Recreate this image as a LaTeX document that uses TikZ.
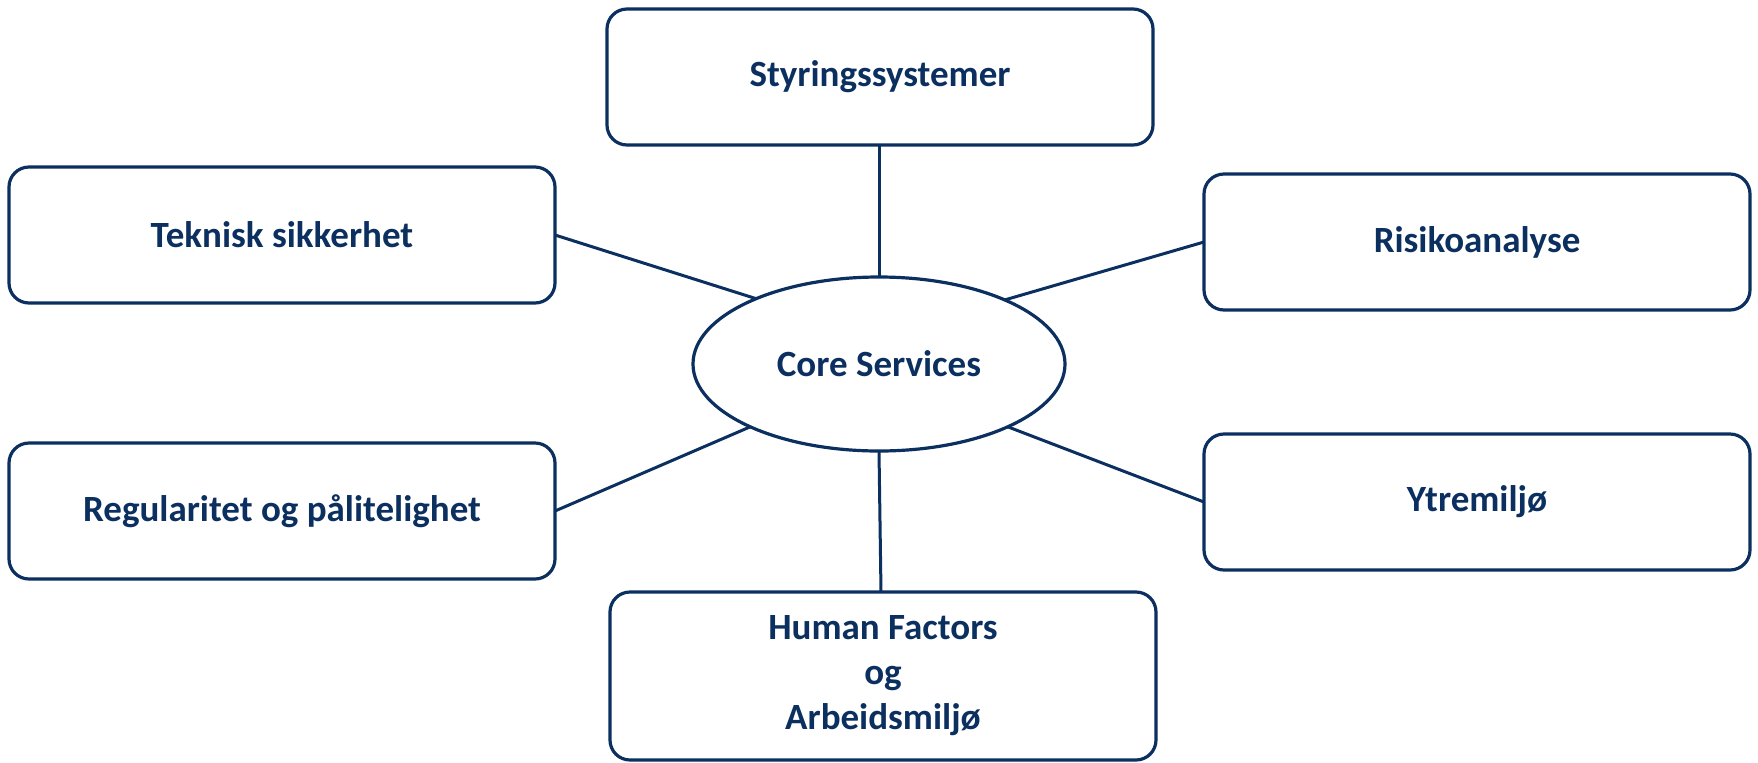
\documentclass[tikz,border=0pt]{standalone}
\usepackage{fontspec}
\setmainfont{Carlito}
\usetikzlibrary{shapes.geometric}
\definecolor{navy}{RGB}{11,48,96}
\begin{document}
\begin{tikzpicture}[x=0.5pt,y=-0.5pt,
  box/.style={draw=navy,line width=1.6pt,rounded corners=10pt,fill=white,
    minimum width=273pt,minimum height=68pt,inner sep=0pt,outer sep=0pt,
    text=navy,font=\bfseries\fontsize{18.5}{22.5}\selectfont,align=center},
  core/.style={draw=navy,line width=1.6pt,ellipse,fill=white,
    minimum width=186pt,minimum height=87pt,inner sep=0pt,outer sep=0pt,
    text=navy,font=\bfseries\fontsize{18.5}{22.5}\selectfont},
  link/.style={draw=navy,line width=1.5pt}]
\useasboundingbox (0,0) rectangle (1758,762);
\node[core] (cs) at (879,364) {Core Services};
\node[box] (sty) at (880,77) {Styringssystemer};
\node[box] (tek) at (282,235) {Teknisk sikkerhet};
\node[box] (ris) at (1477,242) {Risikoanalyse};
\node[box] (reg) at (282,511) {Regularitet og pålitelighet};
\node[box] (ytr) at (1477,502) {Ytremiljø};
\node[box,minimum height=84pt] (hf) at (883,676) {Human Factors\\og\\Arbeidsmiljø};
\draw[link] (sty.south -| cs.north) -- (cs.north);
\draw[link] (tek.east) -- (cs.152);
\draw[link] (ris.west) -- (cs.27);
\draw[link] (reg.east) -- (cs.206);
\draw[link] (ytr.west) -- (cs.334);
\draw[link] (cs.south) -- ([xshift=-1pt]hf.north);
\end{tikzpicture}
\end{document}
